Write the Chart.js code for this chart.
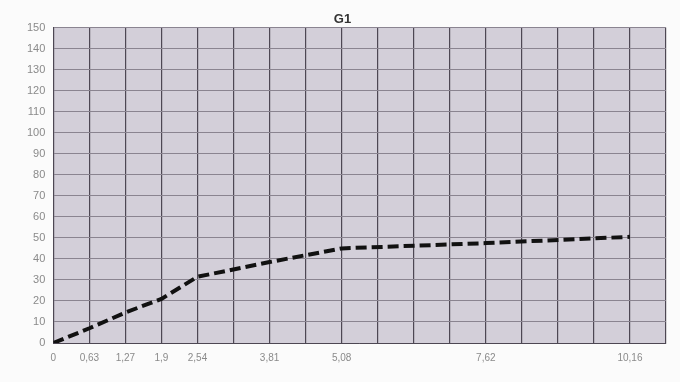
<!DOCTYPE html>
<html>
<head>
<meta charset="utf-8">
<script src="https://cdn.jsdelivr.net/npm/chart.js@4/dist/chart.umd.min.js"></script>
<style>
  html, body { margin: 0; padding: 0; background: #fbfbfb; }
  #wrap { width: 680px; height: 382px; }
</style>
</head>
<body>
<div id="wrap"><canvas id="myChart"></canvas></div>
<script>
'use strict';
// readings
let xValues = [0, 0.635, 1.27, 1.905, 2.54, 3.81, 5.08, 7.62, 10.16]
let xLabels = ['0', '0,63', '1,27', '1,9', '2,54', '3,81', '5,08', '7,62', '10,16']
let g1Values = [0, 7, 14.5, 21, 31.5, 38.5, 45, 47.5, 50.5]
let gridStep = 0.635
let gridCount = 17

let points = []
for (let i = 0; i < xValues.length; i++) {
    points.push({ x: xValues[i], y: g1Values[i] })
}

// paper colour behind the plot
const paperBg = {
    id: 'paperBg',
    beforeDraw(chart) {
        let a = chart.chartArea
        let ctx = chart.ctx
        ctx.save()
        ctx.fillStyle = '#d3cfd9'
        ctx.fillRect(a.left, a.top, a.right - a.left, a.bottom - a.top)
        ctx.restore()
    }
}

var ctx = document.getElementById('myChart').getContext('2d');
var myChart = new Chart(ctx, {
    type: 'line',
    data: {
        datasets: [{
            label: 'G1',
            data: points,
            borderColor: '#111',
            borderWidth: 4,
            borderDash: [11, 5],
            pointRadius: 0,
            tension: 0,
            fill: false
        }]
    },
    options: {
        responsive: true,
        maintainAspectRatio: false,
        animation: false,
        layout: { padding: { left: 19, right: 14, top: 0, bottom: 9 } },
        plugins: {
            legend: { display: false },
            tooltip: { enabled: false },
            title: {
                display: true,
                text: 'G1',
                color: '#333',
                font: { family: 'Arial, Liberation Sans', size: 13, weight: 'bold' },
                padding: { top: 12, bottom: 0 }
            }
        },
        scales: {
            x: {
                type: 'linear',
                min: 0,
                max: gridStep * gridCount,
                afterBuildTicks: function (scale) {
                    let t = []
                    for (let k = 0; k <= gridCount; k++) t.push({ value: k * gridStep })
                    scale.ticks = t
                },
                ticks: {
                    autoSkip: false,
                    maxRotation: 0,
                    padding: 9,
                    color: '#8a8a8a',
                    font: { family: 'Arial, Liberation Sans', size: 10 },
                    callback: function (value) {
                        for (let i = 0; i < xValues.length; i++) {
                            if (Math.abs(xValues[i] - value) < 0.01) return xLabels[i]
                        }
                        return ''
                    }
                },
                grid: { color: '#4d4753', lineWidth: 1.2, drawTicks: false },
                border: { color: '#4d4753' }
            },
            y: {
                min: 0,
                max: 150,
                ticks: {
                    stepSize: 10,
                    color: '#8a8a8a',
                    padding: 8,
                    font: { family: 'Arial, Liberation Sans', size: 11 }
                },
                grid: { color: '#8a8490', lineWidth: 1, drawTicks: false },
                border: { color: '#4d4753' }
            }
        }
    },
    plugins: [paperBg]
});
</script>
</body>
</html>
